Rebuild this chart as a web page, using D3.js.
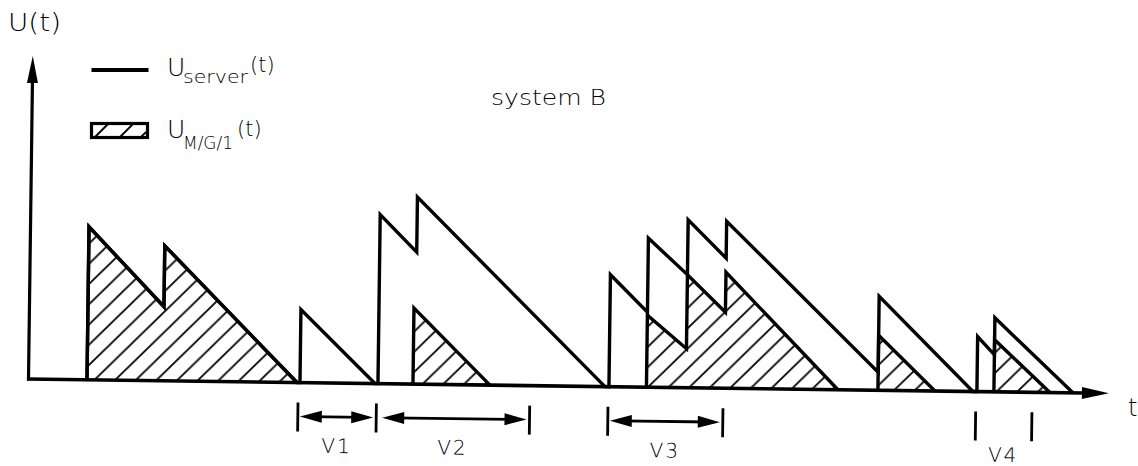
<!DOCTYPE html>
<html>
<head>
<meta charset="utf-8">
<script src="https://cdn.jsdelivr.net/npm/d3@7"></script>
<style>
body{margin:0;background:#fff;}
text{font-family:"DejaVu Sans",sans-serif;font-weight:200;fill:#000;}
</style>
</head>
<body>
<div id="chart"></div>
<script>
// workload of the server, vertices [t, U]
var serverPoints = [
    [5.7,0],[5.7,15.3],[13.3,7.4],[13.3,13.5],[26.7,0],
    [27.0,0],[27.0,7.3],[34.5,0],
    [34.8,0],[34.8,16.9],[38.5,13.2],[38.5,18.7],[57.5,0],
    [57.9,0],[57.9,11.2],[61.65,7.5],[61.65,14.9],[65.6,11.3],[65.6,16.8],
    [69.45,13.0],[69.45,16.7],[84.8,1.8],[84.8,9.4],[94.3,0],
    [94.7,0],[94.7,5.5],[96.4,3.7],[96.4,7.4],[104.3,0]
];
// busy periods of the M/G/1 queue (hatched)
var mg1PeriodA = [[5.7,0],[5.7,15.3],[13.3,7.4],[13.3,13.5],[26.7,0]];
var mg1PeriodB = [[38.3,0],[38.3,7.6],[46.0,0]];
var mg1PeriodC = [[61.65,0],[61.65,7.2],[65.6,3.9],[65.6,11.3],[69.45,7.6],[69.45,11.6],[80.8,0]];
var mg1PeriodD = [[84.8,0],[84.8,5.5],[90.5,0]];
var mg1PeriodE = [[96.4,0],[96.4,5.2],[102.0,0]];
var mg1Periods = [mg1PeriodA, mg1PeriodB, mg1PeriodC, mg1PeriodD, mg1PeriodE];
// vacation intervals under the axis
var vLabels = ["V1", "V2", "V3", "V4"];
var vStart  = [26.83, 34.67, 57.83, 94.6];
var vEnd    = [34.67, 50.0, 69.33, 100.23];
var vArrow  = [true, true, true, false];
var vLeftBar = [true, false, true, true];

var tMax = 107.9, uMax = 32.3;

var width = 1138, height = 466;
var x = d3.scaleLinear().domain([0, 108]).range([30, 1110]);
var y = d3.scaleLinear().domain([0, uMax]).range([379, 56]);

var svg = d3.select("#chart").append("svg")
    .attr("width", width)
    .attr("height", height);

var defs = svg.append("defs");
defs.append("pattern")
    .attr("id", "hatch")
    .attr("patternUnits", "userSpaceOnUse")
    .attr("x", 2)
    .attr("width", 20.5)
    .attr("height", 20.5)
    .append("path")
    .attr("d", "M-5,5L5,-5M0,20.5L20.5,0M15.5,25.5L25.5,15.5")
    .attr("stroke", "#000")
    .attr("stroke-width", 1.8);

// the scan is slightly tilted, keep the same tilt
var plot = svg.append("g")
    .attr("transform", "rotate(0.76," + x(0) + "," + y(0) + ")");

var line = d3.line().x(function(d){ return x(d[0]); }).y(function(d){ return y(d[1]); });

plot.append("g").selectAll("path")
    .data(mg1Periods)
    .enter().append("path")
    .attr("d", function(d){ return line(d) + "Z"; })
    .attr("fill", "url(#hatch)")
    .attr("stroke", "none");

plot.append("g").selectAll("path")
    .data(mg1Periods)
    .enter().append("path")
    .attr("d", line)
    .attr("fill", "none")
    .attr("stroke", "#000")
    .attr("stroke-width", 3.4)
    .attr("stroke-linejoin", "miter");

plot.append("path")
    .datum(serverPoints)
    .attr("d", line)
    .attr("fill", "none")
    .attr("stroke", "#000")
    .attr("stroke-width", 3.4)
    .attr("stroke-linejoin", "miter");

// axes
var x0 = x(0) - 1.5, yb = y(0);
plot.append("path")
    .attr("d", "M" + x0 + "," + (yb + 1.5) + "L" + x0 + "," + (y(uMax) + 25))
    .attr("stroke", "#000").attr("stroke-width", 3.2);
plot.append("path")
    .attr("d", "M" + x0 + "," + y(uMax) + "L" + (x0 - 5.5) + "," + (y(uMax) + 27) + "L" + (x0 + 5.5) + "," + (y(uMax) + 27) + "Z")
    .attr("fill", "#000");
plot.append("path")
    .attr("d", "M" + (x0 - 1.5) + "," + yb + "L" + (x(tMax) - 25) + "," + yb)
    .attr("stroke", "#000").attr("stroke-width", 3.6);
plot.append("path")
    .attr("d", "M" + x(tMax) + "," + yb + "L" + (x(tMax) - 27) + "," + (yb - 6) + "L" + (x(tMax) - 27) + "," + (yb + 6) + "Z")
    .attr("fill", "#000");

// vacation markers
var barTop = yb + 20, barBottom = yb + 49, arrowY = yb + 34, head = 22, half = 6;
var vg = plot.append("g").selectAll("g")
    .data(vLabels)
    .enter().append("g");
vg.each(function(d, i){
    var g = d3.select(this);
    var a = x(vStart[i]), b = x(vEnd[i]);
    if (vLeftBar[i]) {
        g.append("line").attr("x1", a).attr("x2", a).attr("y1", barTop).attr("y2", barBottom)
            .attr("stroke", "#000").attr("stroke-width", 2.8);
    }
    g.append("line").attr("x1", b).attr("x2", b).attr("y1", barTop).attr("y2", barBottom)
        .attr("stroke", "#000").attr("stroke-width", 2.8);
    if (vArrow[i]) {
        var l = a + (vLeftBar[i] ? 2 : 6), r = b - 3;
        g.append("line").attr("x1", l + 10).attr("x2", r - 10).attr("y1", arrowY).attr("y2", arrowY)
            .attr("stroke", "#000").attr("stroke-width", 2.8);
        g.append("path")
            .attr("d", "M" + l + "," + arrowY + "L" + (l + head) + "," + (arrowY - half) + "L" + (l + head) + "," + (arrowY + half) + "Z"
                + "M" + r + "," + arrowY + "L" + (r - head) + "," + (arrowY - half) + "L" + (r - head) + "," + (arrowY + half) + "Z")
            .attr("fill", "#000");
    }
    g.append("text")
        .attr("x", (a + b) / 2)
        .attr("y", yb + 70)
        .attr("text-anchor", "middle")
        .attr("font-size", 20)
        .attr("letter-spacing", 2)
        .text(d);
});

// labels and legend
svg.append("text").attr("x", 8).attr("y", 31).attr("font-size", 24)
    .attr("textLength", 53).attr("lengthAdjust", "spacingAndGlyphs").text("U(t)");
svg.append("text").attr("x", 1128).attr("y", 416).attr("font-size", 24).text("t");
svg.append("text").attr("x", 491).attr("y", 105).attr("font-size", 22)
    .attr("textLength", 115).attr("lengthAdjust", "spacingAndGlyphs").text("system B");

var legend = svg.append("g");
legend.append("line").attr("x1", 91.5).attr("x2", 148.5).attr("y1", 70).attr("y2", 70)
    .attr("stroke", "#000").attr("stroke-width", 3.8);
legend.append("rect").attr("x", 91.5).attr("y", 123.5).attr("width", 56).attr("height", 14)
    .attr("fill", "none").attr("stroke", "#000").attr("stroke-width", 3.2);
legend.append("path")
    .attr("d", "M95,137L108,124M120,137L133,124M141,137L146,132")
    .attr("stroke", "#000").attr("stroke-width", 1.8);

var t1 = legend.append("text");
t1.append("tspan").attr("x", 167).attr("y", 76).attr("font-size", 25).text("U");
t1.append("tspan").attr("x", 183).attr("y", 83).attr("font-size", 18)
    .attr("textLength", 65).attr("lengthAdjust", "spacingAndGlyphs").text("server");
t1.append("tspan").attr("x", 250).attr("y", 72).attr("font-size", 21).text("(t)");

var t2 = legend.append("text");
t2.append("tspan").attr("x", 167).attr("y", 138).attr("font-size", 25).text("U");
t2.append("tspan").attr("x", 183).attr("y", 149).attr("font-size", 18)
    .attr("textLength", 50).attr("lengthAdjust", "spacingAndGlyphs").text("M/G/1");
t2.append("tspan").attr("x", 237).attr("y", 136).attr("font-size", 21).text("(t)");
</script>
</body>
</html>
